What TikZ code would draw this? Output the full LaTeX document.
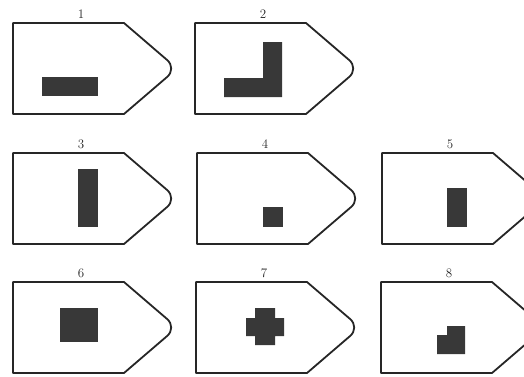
\documentclass[tikz,border=0pt]{standalone}
\begin{document}
\begin{tikzpicture}[x=1pt,y=-1pt,
  outline/.style={draw=black!85,line width=1.8pt,line join=round},
  blot/.style={fill=black!78,draw=none},
  numlabel/.style={font=\fontsize{13}{13}\selectfont,inner sep=0pt,text=black!85}]
\useasboundingbox (0,0) rectangle (524,376);
\clip (0,0) rectangle (524,376);
\newcommand{\tagshape}[3]{% #1 left x, #2 top y, #3 label
  \draw[outline] (#1,#2) -- (#1+111,#2) [rounded corners=13pt] -- (#1+164,#2+45.5) [sharp corners] -- (#1+111,#2+91) -- (#1,#2+91) -- cycle;
  \node[numlabel] (lab#3) at (#1+68,#2-9) {#3};
}
\tagshape{13}{23}{1}
\tagshape{195}{23}{2}
\tagshape{13}{153}{3}
\tagshape{197}{153}{4}
\tagshape{382}{153}{5}
\tagshape{13}{282}{6}
\tagshape{196}{282}{7}
\tagshape{381}{282}{8}
% fillings
\fill[blot] (42,77) rectangle (98,96);
\fill[blot] (263,42) -- (282,42) -- (282,97) -- (224,97) -- (224,78) -- (263,78) -- cycle;
\fill[blot] (78,169) rectangle (98,227);
\fill[blot] (263,207) rectangle (283,227);
\fill[blot] (447,188) rectangle (467,227);
\fill[blot] (60,308) rectangle (98,342);
\fill[blot] (255,308) -- (275,308) -- (275,318) -- (284,318) -- (284,336) -- (275,336) -- (275,345) -- (255,345) -- (255,336) -- (246,336) -- (246,318) -- (255,318) -- cycle;
\fill[blot] (447,326) -- (465,326) -- (465,354) -- (437,354) -- (437,335) -- (447,335) -- cycle;
\end{tikzpicture}
\end{document}
